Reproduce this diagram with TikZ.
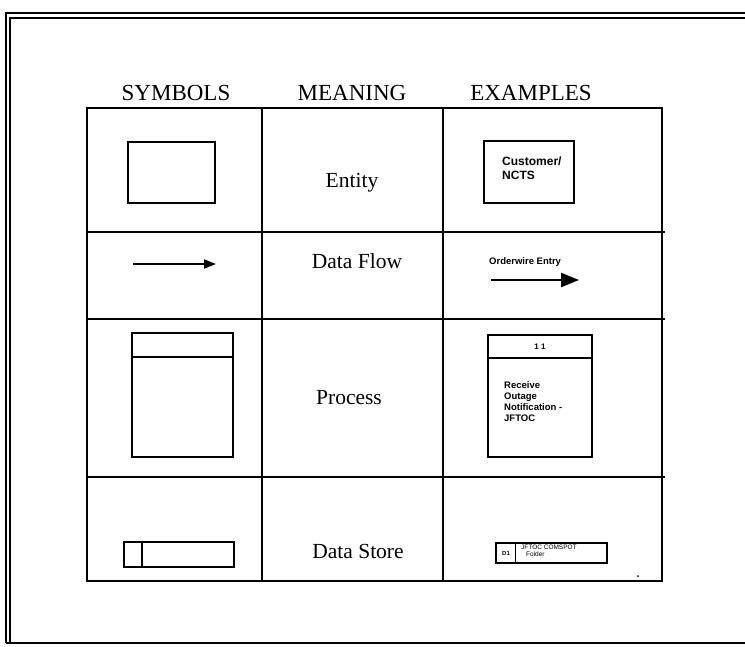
\documentclass[tikz,border=0pt]{standalone}
\usepackage{fontspec}
\setmainfont{Liberation Serif}
\setsansfont{Liberation Sans}
\usetikzlibrary{arrows.meta,positioning,calc}
\tikzset{
  >={Triangle[length=12pt,width=9pt]},
  frame/.style={line width=2pt},
  grid/.style={line width=2pt},
  symbox/.style={draw,line width=2pt,inner sep=0pt},
  head/.style={font=\fontsize{23}{26}\selectfont},
  meaning/.style={font=\fontsize{21.5}{24}\selectfont},
  tiny/.style={font=\sffamily\bfseries\fontsize{9}{11}\selectfont,inner sep=0pt,align=left},
  arrow/.style={->,line width=2pt},
}
\begin{document}
\begin{tikzpicture}[x=1pt,y=-1pt]
  \useasboundingbox (0,0) rectangle (745,646);
  % frame round the page
  \draw[frame] (6,643) -- (6,13) -- (745,13);
  \draw[frame] (10,643) -- (10,18) -- (745,18);
  \draw[frame] (6,643) -- (745,643);
  % table
  \draw[grid] (87,108) rectangle (662,581);
  \foreach \y in {232,319,477} \draw[grid] (87,\y) -- (665,\y);
  \foreach \x in {262,443} \draw[grid] (\x,108) -- (\x,581);
  \node[head] (hsym) at (176,93) {SYMBOLS};
  \node[head] (hmean) at (352,93) {MEANING};
  \node[head] (hex) at (531,93) {EXAMPLES};
  % entity
  \node[symbox,minimum width=87pt,minimum height=61pt] (entsym) at (171,172) {};
  \node[meaning] (entity) at (352,183) {Entity};
  \node[symbox,minimum width=90pt,minimum height=62pt] (entex) at (529,172) {};
  \node[tiny,font=\sffamily\bfseries\fontsize{12}{14}\selectfont,anchor=north west] (cust) at (502,157) {Customer/\\NCTS};
  % data flow
  \coordinate (dfa) at (133,264);
  \coordinate (dfb) at (216,264);
  \draw[arrow] (dfa) -- (dfb);
  \node[meaning] (dflow) at (357,261) {Data Flow};
  \node[tiny,anchor=west,font=\sffamily\bfseries\fontsize{9.5}{11}\selectfont] (owlabel) at (489,262) {Orderwire Entry};
  \coordinate (owa) at (491,280);
  \coordinate (owb) at (579,280);
  \draw[arrow,line width=2.2pt,-{Triangle[length=18pt,width=14pt]}] (owa) -- (owb);
  % process
  \node[symbox,minimum width=101pt,minimum height=124pt] (procsym) at (182.5,395) {};
  \draw[line width=2pt] ($(procsym.north west)+(0,25)$) -- ($(procsym.north east)+(0,25)$);
  \node[meaning] (process) at (349,398) {Process};
  \node[symbox,minimum width=104pt,minimum height=122pt] (procex) at (540,396) {};
  \draw[line width=2pt] ($(procex.north west)+(0,24)$) -- ($(procex.north east)+(0,24)$);
  \node[tiny,font=\sffamily\bfseries\fontsize{8}{9}\selectfont] (procno) at (540,347) {1 1};
  \node[tiny,font=\sffamily\bfseries\fontsize{9.5}{11}\selectfont,anchor=north west] (proctxt) at (504,381) {Receive\\Outage\\Notification -\\JFTOC};
  % data store
  \node[symbox,minimum width=110pt,minimum height=25pt] (storesym) at (179,554.5) {};
  \draw[line width=2pt] ($(storesym.north west)+(19,0)$) -- ($(storesym.south west)+(19,0)$);
  \node[meaning] (store) at (358,551) {Data Store};
  \node[symbox,line width=1.5pt,minimum width=111pt,minimum height=20pt] (storeex) at (551.5,553) {};
  \draw[line width=1.5pt] ($(storeex.north west)+(20,0)$) -- ($(storeex.south west)+(20,0)$);
  \node[tiny,font=\sffamily\bfseries\fontsize{6}{7}\selectfont] (dnum) at (506,553) {D1};
  \node[tiny,font=\sffamily\fontsize{6.5}{7}\selectfont,anchor=north west] (storetxt) at (521,545) {JFTOC COMSPOT\\\hspace*{5pt}Folder};
  \fill (638,576) circle (1pt);
\end{tikzpicture}
\end{document}
